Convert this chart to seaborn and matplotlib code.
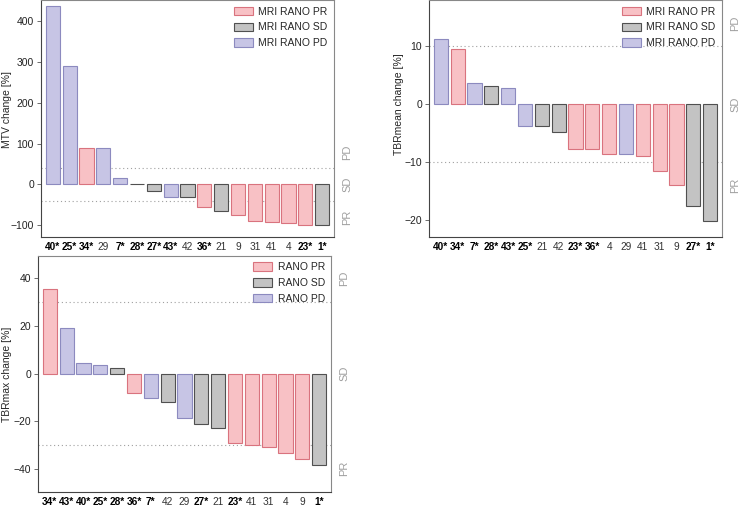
import pandas as pd
import matplotlib
matplotlib.use("Agg")
import matplotlib.pyplot as plt
import matplotlib.patches as mpatches
import matplotlib.transforms as mtransforms
import seaborn as sns

sns.set_style("white")
plt.rcParams['font.family'] = ['Liberation Sans', 'DejaVu Sans']

# MTV change panel
mtv_ids = ['40*', '25*', '34*', '29', '7*', '28*', '27*', '43*', '42', '36*',
           '21', '9', '31', '41', '4', '23*', '1*']
mtv_vals = [438, 291, 90, 90, 15, 1, -16, -30, -32, -56,
            -66, -74, -90, -93, -94.5, -100, -100]
mtv_resp = ['PD', 'PD', 'PR', 'PD', 'PD', 'SD', 'SD', 'PD', 'SD', 'PR',
            'SD', 'PR', 'PR', 'PR', 'PR', 'PR', 'SD']

# TBRmean change panel
mean_ids = ['40*', '34*', '7*', '28*', '43*', '25*', '21', '42', '23*', '36*',
            '4', '29', '41', '31', '9', '27*', '1*']
mean_vals = [11.3, 9.6, 3.7, 3.2, 2.75, -3.7, -3.7, -4.7, -7.7, -7.7,
             -8.5, -8.5, -9.0, -11.5, -13.9, -17.5, -20.2]
mean_resp = ['PD', 'PR', 'PD', 'SD', 'PD', 'PD', 'SD', 'SD', 'PR', 'PR',
             'PR', 'PD', 'PR', 'PR', 'PR', 'SD', 'SD']

# TBRmax change panel
max_ids = ['34*', '43*', '40*', '25*', '28*', '36*', '7*', '42', '29', '27*',
           '21', '23*', '41', '31', '4', '9', '1*']
max_vals = [35.4, 19.1, 4.6, 3.6, 2.5, -8.1, -10.2, -12.1, -18.8, -21.3,
            -22.7, -29.4, -30.2, -30.7, -33.6, -36.1, -38.6]
max_resp = ['PR', 'PD', 'PD', 'PD', 'SD', 'PR', 'PD', 'SD', 'PD', 'SD',
            'SD', 'PR', 'PR', 'PR', 'PR', 'PR', 'SD']

resp_order = ['PR', 'SD', 'PD']
fill = {'PR': '#F8C1C5', 'SD': '#C3C3C3', 'PD': '#C7C5E5'}
edge = {'PR': '#D9737E', 'SD': '#505050', 'PD': '#8C8ABF'}
FS = 7.5


def waterfall(ax, ids, vals, resp, ylabel, ylim, yticks, thr, side_pos,
              legend_prefix, label_xy):
    df = pd.DataFrame({'id': ids, 'val': vals, 'resp': resp})
    for t in (thr, -thr):
        ax.axhline(t, color='#a0a0a0', linestyle=(0, (1, 2.5)), lw=0.8, zorder=0)
    sns.barplot(data=df, x='id', y='val', hue='resp', order=ids, hue_order=resp_order,
                palette=fill, dodge=False, width=0.84, saturation=1, legend=False,
                linewidth=0.8, ax=ax, zorder=2)
    for cont, lev in zip(ax.containers, resp_order):
        for p in cont:
            p.set_edgecolor(edge[lev])
    ax.set_xlim(-0.7, len(ids) - 0.3)
    ax.set_ylim(*ylim)
    ax.set_yticks(yticks)
    ax.set_yticklabels(['\u2212' + str(abs(v)) if v < 0 else str(v) for v in yticks])
    ax.set_xlabel('')
    ax.set_ylabel(ylabel, fontsize=FS, va='center')
    ax.yaxis.set_label_coords(*label_xy)
    ax.tick_params(axis='y', left=True, length=3, width=0.6, color='#555555',
                   labelsize=FS, pad=2, labelcolor='#222222')
    ax.tick_params(axis='x', bottom=False, labelsize=7.3, pad=0)
    for lbl in ax.get_xticklabels():
        if '*' in lbl.get_text():
            lbl.set_fontweight('bold')
            lbl.set_color('black')
        else:
            lbl.set_color('#333333')
    for s in ax.spines.values():
        s.set_color('#888888')
        s.set_linewidth(0.8)
    ax.spines['left'].set_color('#444444')
    ax.spines['bottom'].set_color('#444444')
    trans = mtransforms.blended_transform_factory(ax.transAxes, ax.transData)
    for name, y in zip(['PD', 'SD', 'PR'], side_pos):
        ax.text(1.045, y, name, transform=trans, rotation=90, ha='center', va='center',
                color='#a0a0a0', fontsize=FS + 0.5)
    handles = [mpatches.Patch(facecolor=fill[r], edgecolor=edge[r], lw=0.8,
                              label=legend_prefix + r) for r in resp_order]
    ax.legend(handles=handles, loc='upper right', frameon=False, fontsize=FS,
              handlelength=1.9, handleheight=0.9, labelspacing=0.55,
              borderaxespad=0.2, handletextpad=0.5)


fig = plt.figure(figsize=(7.41, 5.07), dpi=100)
W, H = 741, 507
ax1 = fig.add_axes([41 / W, (H - 237) / H, 293 / W, 236.5 / H])
ax2 = fig.add_axes([429 / W, (H - 237) / H, 293 / W, 236.5 / H])
ax3 = fig.add_axes([38 / W, (H - 492) / H, 293 / W, 236 / H])

waterfall(ax1, mtv_ids, mtv_vals, mtv_resp, 'MTV change [%]', (-129, 451),
          [-100, 0, 100, 200, 300, 400], 40, [78, 0, -80], 'MRI RANO ',
          (-34 / 293, 0.54))
waterfall(ax2, mean_ids, mean_vals, mean_resp, 'TBRmean change [%]', (-22.9, 17.9),
          [-20, -10, 0, 10], 10, [14, 0, -14], 'MRI RANO ', (-30 / 293, 0.56))
waterfall(ax3, max_ids, max_vals, max_resp, 'TBRmax change [%]', (-49.8, 49.4),
          [-40, -20, 0, 20, 40], 30, [40, 0, -40], 'RANO ', (-31 / 293, 0.5))

fig.savefig('out.png', dpi=100)
